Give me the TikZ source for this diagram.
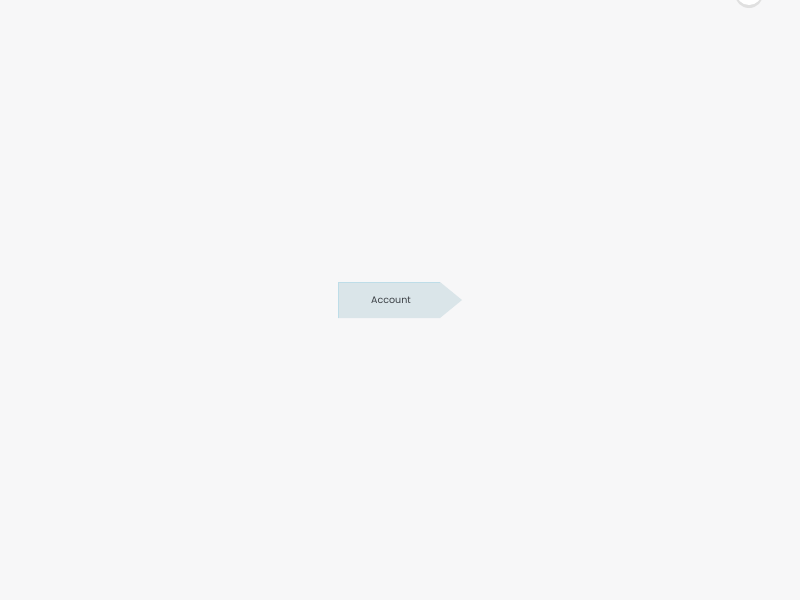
\documentclass[tikz,border=0pt]{standalone}
\usepackage{fontspec}
\setmainfont{Poppins}
\usetikzlibrary{shadows}
\definecolor{bg}{HTML}{F7F7F8}
\definecolor{tagfill}{HTML}{DAE5E9}
\definecolor{tagline}{HTML}{BEDDE8}
\definecolor{txt}{HTML}{3A3F44}
\begin{document}
\begin{tikzpicture}[x=1pt,y=-1pt,
  tagtext/.style={font=\fontsize{9.5}{12}\selectfont, text=txt}]
\useasboundingbox (0,0) rectangle (800,600);
\fill[bg] (0,0) rectangle (800,600);
\begin{scope}
\clip (0,0) rectangle (800,600);
\fill[black!12] (749,-6) circle (14);
\fill[white] (749,-8) circle (13);
\end{scope}
\fill[tagfill] (338,282) -- (440,282) -- (462,300) -- (440,318) -- (338,318) -- cycle;
\draw[tagline, line width=0.7pt] (338,318) -- (338,282) -- (440,282);
\node[tagtext] (acc) at (391,300) {Account};
\end{tikzpicture}
\end{document}
